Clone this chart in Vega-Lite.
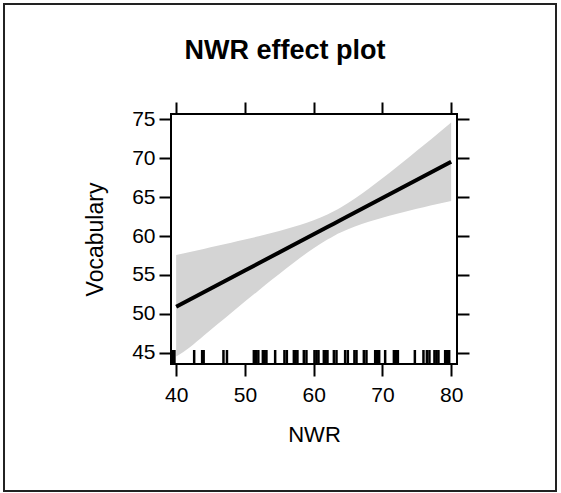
{
  "$schema": "https://vega.github.io/schema/vega-lite/v6.json",
  "width": 286,
  "height": 250,
  "autosize": "none",
  "padding": {"left": 171, "top": 114, "right": 104, "bottom": 129},
  "background": "white",
  "title": {
    "text": "NWR effect plot",
    "font": "Liberation Sans",
    "fontSize": 27,
    "fontWeight": "bold",
    "color": "black",
    "anchor": "middle",
    "baseline": "alphabetic",
    "dx": -29,
    "offset": -83
  },
  "datasets": {
    "band": [
      {"NWR": 40, "fit": 50.9, "lower": 44.5, "upper": 57.56},
      {"NWR": 42, "fit": 51.83, "lower": 45.71, "upper": 57.95},
      {"NWR": 44, "fit": 52.76, "lower": 47.18, "upper": 58.34},
      {"NWR": 46, "fit": 53.7, "lower": 48.66, "upper": 58.74},
      {"NWR": 48, "fit": 54.63, "lower": 50.12, "upper": 59.14},
      {"NWR": 50, "fit": 55.56, "lower": 51.57, "upper": 59.55},
      {"NWR": 52, "fit": 56.49, "lower": 53.01, "upper": 59.97},
      {"NWR": 54, "fit": 57.42, "lower": 54.43, "upper": 60.41},
      {"NWR": 56, "fit": 58.36, "lower": 55.83, "upper": 60.89},
      {"NWR": 58, "fit": 59.29, "lower": 57.17, "upper": 61.41},
      {"NWR": 60, "fit": 60.22, "lower": 58.43, "upper": 62.01},
      {"NWR": 62, "fit": 61.15, "lower": 59.54, "upper": 62.76},
      {"NWR": 63, "fit": 61.62, "lower": 60.04, "upper": 63.2},
      {"NWR": 64, "fit": 62.08, "lower": 60.47, "upper": 63.69},
      {"NWR": 66, "fit": 63.02, "lower": 61.23, "upper": 64.81},
      {"NWR": 68, "fit": 63.95, "lower": 61.83, "upper": 66.07},
      {"NWR": 70, "fit": 64.88, "lower": 62.35, "upper": 67.41},
      {"NWR": 72, "fit": 65.81, "lower": 62.82, "upper": 68.8},
      {"NWR": 74, "fit": 66.75, "lower": 63.27, "upper": 70.23},
      {"NWR": 76, "fit": 67.68, "lower": 63.69, "upper": 71.67},
      {"NWR": 78, "fit": 68.61, "lower": 64.1, "upper": 73.12},
      {"NWR": 80, "fit": 69.54, "lower": 64.5, "upper": 74.58}
    ],
    "rug": [
      {"NWR": 39.5}, {"NWR": 39.75}, {"NWR": 42.62}, {"NWR": 43.78}, {"NWR": 44.0},
      {"NWR": 46.88}, {"NWR": 47.39}, {"NWR": 51.3}, {"NWR": 51.6}, {"NWR": 51.95},
      {"NWR": 52.61}, {"NWR": 52.87}, {"NWR": 53.13}, {"NWR": 54.4}, {"NWR": 55.75},
      {"NWR": 56.1}, {"NWR": 57.12}, {"NWR": 57.38}, {"NWR": 57.64}, {"NWR": 58.57},
      {"NWR": 58.95}, {"NWR": 60.12}, {"NWR": 60.41}, {"NWR": 60.7}, {"NWR": 61.48},
      {"NWR": 61.75}, {"NWR": 62.01}, {"NWR": 62.94}, {"NWR": 63.32}, {"NWR": 64.58},
      {"NWR": 64.97}, {"NWR": 65.93}, {"NWR": 66.23}, {"NWR": 67.3}, {"NWR": 67.68},
      {"NWR": 68.95}, {"NWR": 69.24}, {"NWR": 69.53}, {"NWR": 70.4}, {"NWR": 71.67},
      {"NWR": 71.96}, {"NWR": 72.25}, {"NWR": 74.72}, {"NWR": 75.97}, {"NWR": 76.47},
      {"NWR": 76.84}, {"NWR": 77.57}, {"NWR": 77.86}, {"NWR": 78.15}, {"NWR": 79.13},
      {"NWR": 79.42}, {"NWR": 79.71}
    ],
    "frame": [{"k": 1}]
  },
  "layer": [
    {
      "data": {"name": "band"},
      "mark": {"type": "area", "color": "#d4d4d4", "opacity": 1, "interpolate": "monotone"},
      "encoding": {
        "x": {
          "field": "NWR", "type": "quantitative",
          "scale": {"domain": [39.25, 80.85], "nice": false, "zero": false},
          "axis": {"orient": "bottom", "values": [40, 50, 60, 70, 80], "title": "NWR", "labelPadding": 8, "titlePadding": 19}
        },
        "y": {
          "field": "lower", "type": "quantitative",
          "scale": {"domain": [43.55, 75.68], "nice": false, "zero": false},
          "axis": {"orient": "left", "values": [45, 50, 55, 60, 65, 70, 75], "title": "Vocabulary", "titlePadding": 24, "titleFontSize": 23}
        },
        "y2": {"field": "upper"}
      }
    },
    {
      "data": {"name": "band"},
      "mark": {"type": "line", "color": "black", "strokeWidth": 4},
      "encoding": {
        "x": {
          "field": "NWR", "type": "quantitative",
          "axis": {"orient": "top", "values": [40, 50, 60, 70, 80], "labels": false, "title": null}
        },
        "y": {
          "field": "fit", "type": "quantitative",
          "axis": {"orient": "right", "values": [45, 50, 55, 60, 65, 70, 75], "labels": false, "title": null}
        }
      }
    },
    {
      "data": {"name": "rug"},
      "mark": {"type": "rule", "color": "black", "strokeWidth": 2.5},
      "encoding": {
        "x": {"field": "NWR", "type": "quantitative", "axis": null},
        "y": {"datum": 43.55, "axis": null},
        "y2": {"datum": 45.35}
      }
    },
    {
      "data": {"name": "frame"},
      "mark": {"type": "rect", "fill": null, "fillOpacity": 0, "stroke": "#222222", "strokeWidth": 2, "clip": false},
      "encoding": {
        "x": {"datum": 14.96, "axis": null},
        "x2": {"datum": 95.25},
        "y": {"datum": 27.23, "axis": null},
        "y2": {"datum": 89.82}
      }
    }
  ],
  "config": {
    "view": {"stroke": "black", "strokeWidth": 2},
    "axis": {
      "domain": false,
      "grid": false,
      "tickSize": 12,
      "tickWidth": 2,
      "tickColor": "black",
      "labelFont": "Liberation Sans",
      "labelFontSize": 21,
      "labelColor": "black",
      "labelPadding": 4,
      "titleFont": "Liberation Sans",
      "titleFontSize": 22,
      "titleFontWeight": "normal",
      "titleColor": "black"
    },
    "axisLeft": {"labelAlign": "right", "labelBaseline": "middle"}
  }
}
